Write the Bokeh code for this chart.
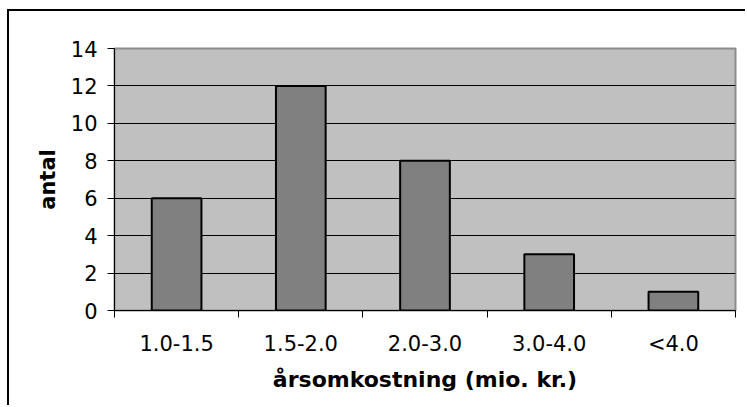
from bokeh.plotting import figure
from bokeh.models import Range1d, LinearAxis, FixedTicker
from bokeh.embed import file_html
from bokeh.resources import INLINE

categories = ["1.0-1.5", "1.5-2.0", "2.0-3.0", "3.0-4.0", "<4.0"]
counts = [6, 12, 8, 3, 1]
y_ticks = [0, 2, 4, 6, 8, 10, 12, 14]
x_title = "årsomkostning (mio. kr.)"
y_title = "antal"

FONT = "DejaVu Sans"
FS = "21px"
TFS = "22px"

p = figure(
    x_range=categories,
    y_range=Range1d(y_ticks[0], y_ticks[-1]),
    width=738, height=396,
    output_backend="svg", toolbar_location=None,
    x_axis_location=None,
    min_border_left=105, min_border_top=37, min_border_right=12, min_border_bottom=97,
)
p.styles = {"border-left": "2px solid black", "border-top": "2px solid black",
            "margin-left": "7px", "margin-top": "9px"}

p.background_fill_color = "#C0C0C0"
p.border_fill_color = "white"
p.outline_line_color = "#8c8c8c"
p.outline_line_width = 2

p.vbar(x=categories, top=counts, width=0.4, fill_color="#808080",
       line_color="black", line_width=2)

# y axis
p.yaxis.ticker = FixedTicker(ticks=y_ticks)
p.yaxis.major_tick_out = 7
p.yaxis.major_tick_in = 0
p.yaxis.minor_tick_line_color = None
p.yaxis.axis_line_color = "black"
p.yaxis.major_label_text_font = FONT
p.yaxis.major_label_text_font_size = FS
p.yaxis.major_label_text_color = "black"
p.yaxis.major_label_standoff = 10
p.yaxis.axis_label = y_title
p.yaxis.axis_label_text_font = FONT
p.yaxis.axis_label_text_font_size = FS
p.yaxis.axis_label_text_font_style = "bold"
p.yaxis.axis_label_text_color = "black"
p.yaxis.axis_label_standoff = 8

p.ygrid.ticker = FixedTicker(ticks=y_ticks[1:-1])
p.ygrid.grid_line_color = "black"
p.ygrid.grid_line_width = 1
p.xgrid.grid_line_color = None

# x axis: labels at category centres, tick marks at category boundaries
# (positions in the factor range's synthetic coordinates)
n = len(categories)
centres = [i + 0.5 for i in range(n)]
x_axis = LinearAxis(
    ticker=FixedTicker(ticks=centres, minor_ticks=list(range(n + 1))),
    major_label_overrides={c: lab for c, lab in zip(centres, categories)},
    major_tick_line_color=None,
    major_tick_out=7, major_tick_in=0,
    minor_tick_line_color="black",
    minor_tick_out=7, minor_tick_in=0,
    axis_line_color="black",
    major_label_standoff=14,
    major_label_text_font=FONT,
    major_label_text_font_size=FS,
    major_label_text_color="black",
    axis_label=x_title,
    axis_label_text_font=FONT,
    axis_label_text_font_size=TFS,
    axis_label_text_font_style="bold",
    axis_label_text_color="black",
    axis_label_standoff=8,
)
p.add_layout(x_axis, "below")

open("out.html", "w").write(file_html(p, INLINE))
